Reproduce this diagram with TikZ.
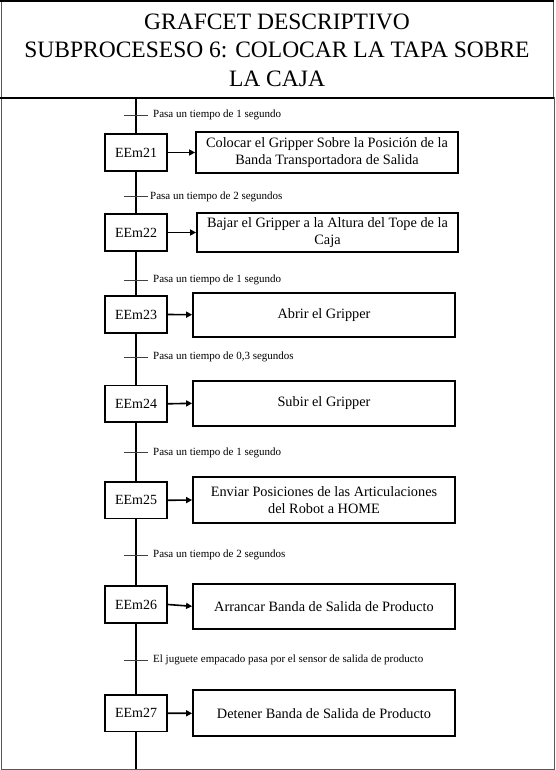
\documentclass[tikz,border=0pt]{standalone}
\usepackage{fontspec}
\setmainfont{Liberation Serif}
\usetikzlibrary{arrows.meta}
\begin{document}
\begin{tikzpicture}[x=1pt,y=-1pt,
  stepbox/.style={draw=black,line width=1.8pt,minimum width=62pt,minimum height=36.5pt,inner sep=0pt,font=\fontsize{14}{17}\selectfont},
  actbox/.style={draw=black,line width=1.8pt,inner sep=0pt,align=center,font=\fontsize{14.3}{17.5}\selectfont},
  link/.style={line width=1.8pt,black},
  act/.style={line width=1.6pt,-{Triangle[length=6pt,width=6pt]}},
  tick/.style={line width=0.8pt,black!75},
  translabel/.style={anchor=west,inner sep=0pt,font=\fontsize{11}{13}\selectfont},
  frameline/.style={line width=1pt,black!65}]
\useasboundingbox (0,0) rectangle (556,770);
% frame
\draw[frameline] (1,0.5) -- (1,769.3) -- (554,769.3) -- (554,97.5);
\draw[frameline] (553,0.5) -- (553,97.5);
\draw[line width=1.6pt] (0,0.8) -- (554,0.8);
\draw[line width=2pt] (0,97.8) -- (554,97.8);
\node[anchor=north,inner sep=0pt,align=center,font=\fontsize{23.5}{28.5}\selectfont] (title) at (277,13.4)
  {GRAFCET DESCRIPTIVO\\SUBPROCESESO 6: COLOCAR LA TAPA SOBRE\\LA CAJA};
% coordinates
\coordinate (top) at (136,97.8);
\coordinate (bot) at (136,769.3);
% steps
\node[stepbox] (s21) at (136,152.5) {EEm21};
\node[stepbox] (s22) at (136,232.5) {EEm22};
\node[stepbox] (s23) at (136,314.5) {EEm23};
\node[stepbox] (s24) at (136,403.8) {EEm24};
\node[stepbox] (s25) at (136,500.3) {EEm25};
\node[stepbox] (s26) at (136,604.5) {EEm26};
\node[stepbox] (s27) at (136,713.2) {EEm27};
% actions
\node[actbox,minimum width=262pt,minimum height=41pt] (a21) at (327,152.5) {Colocar el Gripper Sobre la Posición de la\\Banda Transportadora de Salida};
\node[actbox,minimum width=261pt,minimum height=39.6pt] (a22) at (327.5,232.5) {Bajar el Gripper a la Altura del Tope de la\\Caja};
\node[actbox,minimum width=262pt,minimum height=44pt] (a23) at (324,314.7) {Abrir el Gripper};
\node[actbox,minimum width=262pt,minimum height=44.7pt] (a24) at (324,403.3) {Subir el Gripper};
\node[actbox,minimum width=262pt,minimum height=46pt] (a25) at (324,500) {Enviar Posiciones de las Articulaciones\\del Robot a HOME};
\node[actbox,minimum width=262pt,minimum height=45.3pt] (a26) at (324,606.3) {Arrancar Banda de Salida de Producto};
\node[actbox,minimum width=262pt,minimum height=46pt] (a27) at (324,713.3) {Detener Banda de Salida de Producto};
% vertical links
\draw[link] (top) -- (s21.north);
\draw[link] (s21.south) -- (s22.north);
\draw[link] (s22.south) -- (s23.north);
\draw[link] (s23.south) -- (s24.north);
\draw[link] (s24.south) -- (s25.north);
\draw[link] (s25.south) -- (s26.north);
\draw[link] (s26.south) -- (s27.north);
\draw[link] (s27.south) -- (bot);
% action arrows
\foreach \n in {21,...,27} {\draw[act] (s\n.east) -- (a\n.west);}
% transitions
\coordinate (t1) at (136,115);
\coordinate (t2) at (136,196.5);
\coordinate (t3) at (136,280);
\coordinate (t4) at (136,357);
\coordinate (t5) at (136,452.7);
\coordinate (t6) at (136,555);
\coordinate (t7) at (136,660);
\draw[tick] ([xshift=-12pt]t1) -- ([xshift=12pt]t1);
\draw[tick] ([xshift=-12pt]t2) -- ([xshift=12pt]t2);
\draw[tick] ([xshift=-12pt]t3) -- ([xshift=12pt]t3);
\draw[tick] ([xshift=-12pt]t4) -- ([xshift=12pt]t4);
\draw[tick] ([xshift=-12pt]t5) -- ([xshift=12pt]t5);
\draw[tick] ([xshift=-12pt]t6) -- ([xshift=12pt]t6);
\draw[tick] ([xshift=-12pt]t7) -- ([xshift=12pt]t7);
\node[translabel] (l1) at ([xshift=17pt]t1) {Pasa un tiempo de 1 segundo};
\node[translabel] (l2) at ([xshift=14pt]t2) {Pasa un tiempo de 2 segundos};
\node[translabel] (l3) at ([xshift=17pt]t3) {Pasa un tiempo de 1 segundo};
\node[translabel] (l4) at ([xshift=17pt]t4) {Pasa un tiempo de 0,3 segundos};
\node[translabel] (l5) at ([xshift=17pt]t5) {Pasa un tiempo de 1 segundo};
\node[translabel] (l6) at ([xshift=17pt]t6) {Pasa un tiempo de 2 segundos};
\node[translabel] (l7) at ([xshift=17pt]t7) {El juguete empacado pasa por el sensor de salida de producto};
\end{tikzpicture}
\end{document}
